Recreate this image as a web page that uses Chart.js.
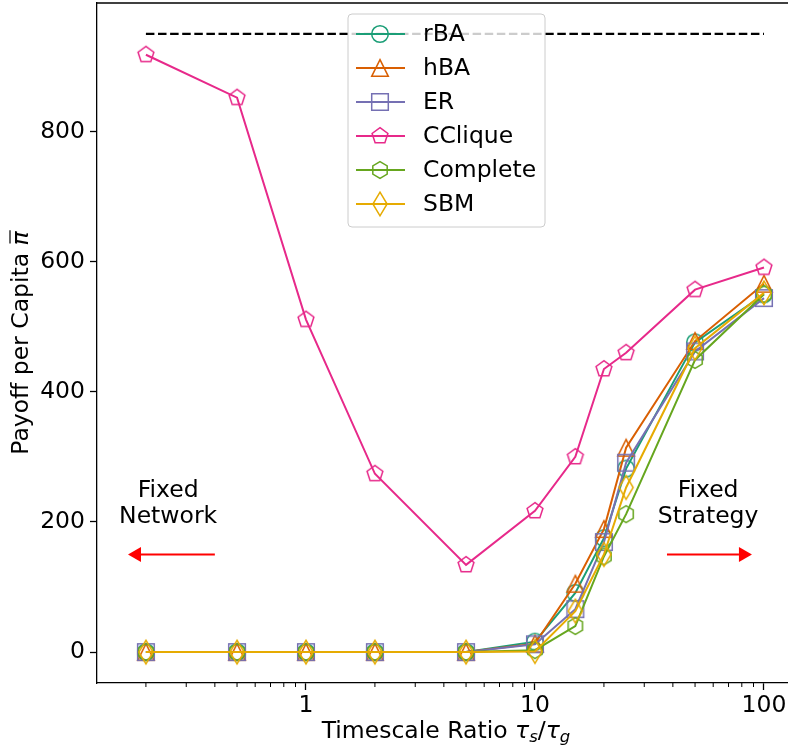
<!DOCTYPE html>
<html>
<head>
<meta charset="utf-8">
<script src="https://cdn.jsdelivr.net/npm/chart.js@4.4.1/dist/chart.umd.min.js"></script>
<style>
  html, body { margin: 0; padding: 0; background: #fff; }
  #wrap { width: 788px; height: 749px; }
</style>
</head>
<body>
<div id="wrap"><canvas id="grafico"></canvas></div>
<script>
// data
const ratios = [0.2, 0.5, 1, 2, 5, 10, 15, 20, 25, 50, 100];
const rBA      = [0, 0, 0, 0, 0, 16, 91, 175, 282, 476, 550];
const hBA      = [0, 0, 0, 0, 0, 13, 105, 189, 314, 478, 566];
const ER       = [0, 0, 0, 0, 0, 12, 66, 169, 291, 462, 544];
const CClique  = [918, 852, 511, 274, 134, 217, 300, 435, 460, 557, 591];
const Complete = [0, 0, 0, 0, 0, 3, 40, 147, 212, 449, 550];
const SBM      = [0, 0, 0, 0, 0, 1, 63, 150, 253, 467, 552];
const seriesNames = ['rBA', 'hBA', 'ER', 'CClique', 'Complete', 'SBM'];
const optimum = 950;

const xTicks = [0.2, 0.3, 0.4, 0.5, 0.6, 0.7, 0.8, 0.9, 1, 2, 3, 4, 5, 6, 7, 8, 9, 10,
                20, 30, 40, 50, 60, 70, 80, 90, 100];
const yTicks = [0, 200, 400, 600, 800];

// annotations (data coordinates)
const arrowY = 150;
const leftArrow = [0.40, 0.167];
const rightArrow = [37.7, 88.6];
const leftLabel = ['Fixed', 'Network'];
const rightLabel = ['Fixed', 'Strategy'];
const leftLabelX = 0.25, rightLabelX = 57, labelY = 228;

const colors = ['#1b9e77', '#d95f02', '#7570b3', '#e7298a', '#66a61e', '#e6ab02'];
const shapes = ['circle', 'triangle', 'square', 'pentagon', 'hexagon', 'diamond'];
const FONT = 'DejaVu Sans';
const FS = 23.5;

Chart.defaults.font.family = FONT;
Chart.defaults.font.size = FS;
Chart.defaults.color = '#000';

function isDecade(v) {
  const l = Math.log10(v);
  return Math.abs(l - Math.round(l)) < 1e-9;
}

function makeMarker(shape, color) {
  const s = 32;
  const c = document.createElement('canvas');
  c.width = s; c.height = s;
  const g = c.getContext('2d');
  g.strokeStyle = color;
  g.lineWidth = 1.5;
  g.translate(s / 2, s / 2);
  const r = 8.3;
  g.beginPath();
  if (shape === 'circle') {
    g.arc(0, 0, r, 0, 2 * Math.PI);
  } else if (shape === 'triangle') {
    g.moveTo(0, -r); g.lineTo(r, r); g.lineTo(-r, r); g.closePath();
  } else if (shape === 'square') {
    g.rect(-r, -r, 2 * r, 2 * r);
  } else if (shape === 'diamond') {
    g.moveTo(0, -11.8); g.lineTo(7.1, 0); g.lineTo(0, 11.8); g.lineTo(-7.1, 0); g.closePath();
  } else {
    const n = shape === 'pentagon' ? 5 : 6;
    for (let i = 0; i < n; i++) {
      const a = -Math.PI / 2 + i * 2 * Math.PI / n;
      const px = r * Math.cos(a), py = r * Math.sin(a);
      if (i === 0) g.moveTo(px, py); else g.lineTo(px, py);
    }
    g.closePath();
  }
  g.stroke();
  return c;
}

const markers = shapes.map((s, i) => makeMarker(s, colors[i]));
const allSeries = [rBA, hBA, ER, CClique, Complete, SBM];

const datasets = allSeries.map((vals, i) => ({
  label: seriesNames[i],
  data: ratios.map((x, j) => ({ x: x, y: vals[j] })),
  borderColor: colors[i],
  backgroundColor: 'transparent',
  borderWidth: 2,
  pointStyle: markers[i],
  pointRadius: 8,
  order: 6 - i
}));
datasets.push({
  label: 'optimum',
  data: [{ x: ratios[0], y: optimum }, { x: ratios[ratios.length - 1], y: optimum }],
  borderColor: '#000',
  borderWidth: 2.2,
  borderDash: [8.5, 3.6],
  pointRadius: 0,
  order: 7
});

function drawPieces(ctx, pieces, cx, baseY) {
  let total = 0;
  pieces.forEach(p => { ctx.font = p.f; p.w = ctx.measureText(p.t).width; total += p.w; });
  let x = cx - total / 2;
  ctx.textAlign = 'left';
  ctx.textBaseline = 'alphabetic';
  pieces.forEach(p => {
    ctx.font = p.f;
    ctx.fillText(p.t, x, baseY + (p.dy || 0));
    if (p.bar) {
      ctx.beginPath();
      ctx.lineWidth = 1.2;
      ctx.moveTo(x + 2, baseY - 18);
      ctx.lineTo(x + p.w + 1, baseY - 18);
      ctx.stroke();
    }
    x += p.w;
  });
}

function arrow(ctx, x0, x1, y, color) {
  const dir = Math.sign(x1 - x0);
  const head = 13;
  ctx.strokeStyle = color;
  ctx.fillStyle = color;
  ctx.lineWidth = 2;
  ctx.beginPath();
  ctx.moveTo(x0, y);
  ctx.lineTo(x1 - dir * head, y);
  ctx.stroke();
  ctx.beginPath();
  ctx.moveTo(x1, y);
  ctx.lineTo(x1 - dir * head, y - 7.5);
  ctx.lineTo(x1 - dir * head, y + 7.5);
  ctx.closePath();
  ctx.fill();
}

const decor = {
  id: 'decor',
  afterDraw(chart) {
    const ctx = chart.ctx;
    const a = chart.chartArea;
    const xs = chart.scales.x, ys = chart.scales.y;
    ctx.save();

    // top spine
    ctx.strokeStyle = '#000';
    ctx.lineWidth = 1.3;
    ctx.beginPath();
    ctx.moveTo(a.left, a.top);
    ctx.lineTo(a.right, a.top);
    ctx.stroke();

    // minor ticks
    ctx.lineWidth = 1;
    xTicks.forEach(v => {
      if (isDecade(v)) return;
      const px = xs.getPixelForValue(v);
      ctx.beginPath();
      ctx.moveTo(px, a.bottom);
      ctx.lineTo(px, a.bottom + 4);
      ctx.stroke();
    });

    // arrows
    const ay = ys.getPixelForValue(arrowY);
    arrow(ctx, xs.getPixelForValue(leftArrow[0]), xs.getPixelForValue(leftArrow[1]), ay, '#ff0000');
    arrow(ctx, xs.getPixelForValue(rightArrow[0]), xs.getPixelForValue(rightArrow[1]), ay, '#ff0000');

    // annotation text
    ctx.fillStyle = '#000';
    ctx.font = FS + 'px ' + FONT;
    ctx.textAlign = 'center';
    ctx.textBaseline = 'middle';
    const ly = ys.getPixelForValue(labelY);
    [[leftLabel, leftLabelX], [rightLabel, rightLabelX]].forEach(([lines, vx]) => {
      const px = xs.getPixelForValue(vx);
      ctx.fillText(lines[0], px, ly - 13);
      ctx.fillText(lines[1], px, ly + 13);
    });

    // x title
    ctx.strokeStyle = '#000';
    drawPieces(ctx, [
      { t: 'Timescale Ratio ', f: FS + 'px ' + FONT },
      { t: 'τ', f: 'italic ' + FS + 'px ' + FONT },
      { t: 's', f: 'italic 16.5px ' + FONT, dy: 4 },
      { t: '/', f: FS + 'px ' + FONT },
      { t: 'τ', f: 'italic ' + FS + 'px ' + FONT },
      { t: 'g', f: 'italic 16.5px ' + FONT, dy: 4 }
    ], 446, 738);

    // y title
    ctx.save();
    ctx.translate(28, (a.top + a.bottom) / 2);
    ctx.rotate(-Math.PI / 2);
    drawPieces(ctx, [
      { t: 'Payoff per Capita ', f: FS + 'px ' + FONT },
      { t: 'π', f: 'italic ' + FS + 'px ' + FONT, bar: true }
    ], 0, 0);
    ctx.restore();

    // legend
    const L = a.left + 251, T = a.top + 11, W = 197, H = 213, R = 4;
    ctx.beginPath();
    ctx.roundRect(L, T, W, H, R);
    ctx.fillStyle = 'rgba(255,255,255,0.8)';
    ctx.fill();
    ctx.strokeStyle = '#cccccc';
    ctx.lineWidth = 1;
    ctx.stroke();
    ctx.font = FS + 'px ' + FONT;
    ctx.textAlign = 'left';
    ctx.textBaseline = 'middle';
    seriesNames.forEach((name, i) => {
      const cy = T + 20 + i * 34;
      ctx.strokeStyle = colors[i];
      ctx.lineWidth = 2;
      ctx.beginPath();
      ctx.moveTo(L + 8, cy);
      ctx.lineTo(L + 57, cy);
      ctx.stroke();
      ctx.drawImage(markers[i], L + 32 - 16, cy - 16);
      ctx.fillStyle = '#000';
      ctx.fillText(name, L + 75, cy + 1);
    });

    ctx.restore();
  }
};

new Chart(document.getElementById('grafico'), {
  type: 'line',
  data: { datasets: datasets },
  plugins: [decor],
  options: {
    responsive: true,
    maintainAspectRatio: false,
    animation: false,
    layout: { autoPadding: false, padding: { top: 3, right: 0, left: 0, bottom: 0 } },
    plugins: {
      legend: { display: false },
      tooltip: { enabled: false }
    },
    scales: {
      x: {
        type: 'logarithmic',
        min: 0.1223,
        max: 127.3,
        afterBuildTicks: s => { s.ticks = xTicks.map(v => ({ value: v, major: isDecade(v) })); },
        afterFit: s => { s.height = 66; s.paddingLeft = 0; s.paddingRight = 0; },
        ticks: {
          autoSkip: false,
          maxRotation: 0,
          minRotation: 0,
          padding: 2,
          callback: v => isDecade(v) ? String(v) : ''
        },
        grid: {
          drawOnChartArea: false,
          tickLength: 7,
          tickWidth: 1.3,
          tickColor: c => (c.tick && isDecade(c.tick.value)) ? '#000' : 'rgba(0,0,0,0)'
        },
        border: { color: '#000', width: 1.3 }
      },
      y: {
        type: 'linear',
        min: -47.5,
        max: 997.5,
        afterBuildTicks: s => { s.ticks = yTicks.map(v => ({ value: v })); },
        afterFit: s => { s.width = 97; s.paddingTop = 0; s.paddingBottom = 0; },
        ticks: { padding: 5 },
        grid: {
          drawOnChartArea: false,
          tickLength: 7,
          tickWidth: 1.3,
          tickColor: '#000'
        },
        border: { color: '#000', width: 1.3 }
      }
    }
  }
});
</script>
</body>
</html>
